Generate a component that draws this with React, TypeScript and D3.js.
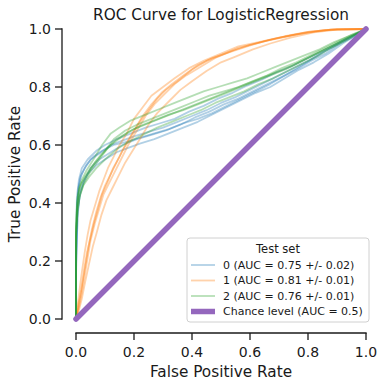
import * as d3 from 'd3';

// ROC folds per class, [fpr, tpr]
const class0Folds: [number, number][][] = [
  [[0,0],[0,0.2],[0.004,0.38],[0.008,0.45],[0.015,0.49],[0.03,0.52],[0.05,0.55],[0.08,0.57],[0.12,0.6],[0.16,0.615],[0.2,0.63],[0.25,0.645],[0.3,0.66],[0.35,0.68],[0.4,0.7],[0.45,0.72],[0.5,0.745],[0.55,0.765],[0.6,0.79],[0.65,0.815],[0.7,0.84],[0.75,0.865],[0.8,0.89],[0.85,0.92],[0.9,0.945],[0.95,0.975],[1,1]],
  [[0,0],[0,0.15],[0.005,0.35],[0.012,0.42],[0.025,0.47],[0.04,0.5],[0.07,0.53],[0.1,0.55],[0.14,0.575],[0.18,0.59],[0.22,0.605],[0.27,0.62],[0.32,0.64],[0.37,0.66],[0.42,0.68],[0.47,0.705],[0.52,0.73],[0.57,0.755],[0.62,0.78],[0.67,0.8],[0.72,0.83],[0.77,0.86],[0.82,0.885],[0.87,0.915],[0.92,0.95],[0.96,0.975],[1,1]],
  [[0,0],[0,0.25],[0.003,0.42],[0.01,0.48],[0.02,0.52],[0.04,0.55],[0.07,0.58],[0.1,0.6],[0.14,0.62],[0.19,0.64],[0.24,0.66],[0.29,0.675],[0.34,0.69],[0.39,0.715],[0.44,0.735],[0.49,0.76],[0.54,0.78],[0.59,0.805],[0.64,0.825],[0.69,0.85],[0.74,0.87],[0.79,0.895],[0.84,0.92],[0.89,0.945],[0.94,0.97],[1,1]],
  [[0,0],[0,0.18],[0.006,0.37],[0.015,0.44],[0.03,0.48],[0.05,0.52],[0.08,0.55],[0.12,0.575],[0.16,0.6],[0.21,0.62],[0.26,0.635],[0.31,0.65],[0.36,0.67],[0.41,0.695],[0.46,0.715],[0.51,0.74],[0.56,0.76],[0.61,0.785],[0.66,0.81],[0.71,0.835],[0.76,0.86],[0.81,0.89],[0.86,0.915],[0.91,0.95],[0.95,0.97],[1,1]],
  [[0,0],[0,0.22],[0.004,0.4],[0.01,0.46],[0.02,0.5],[0.035,0.53],[0.06,0.56],[0.09,0.58],[0.13,0.6],[0.17,0.61],[0.22,0.625],[0.27,0.64],[0.32,0.655],[0.37,0.675],[0.42,0.69],[0.47,0.71],[0.52,0.735],[0.57,0.76],[0.62,0.785],[0.67,0.81],[0.72,0.84],[0.77,0.87],[0.82,0.9],[0.87,0.93],[0.92,0.96],[0.96,0.98],[1,1]],
];

const class1Folds: [number, number][][] = [
  [[0,0],[0.008,0.04],[0.015,0.08],[0.025,0.14],[0.035,0.2],[0.045,0.26],[0.055,0.31],[0.07,0.37],[0.085,0.42],[0.1,0.46],[0.12,0.5],[0.14,0.54],[0.16,0.58],[0.19,0.63],[0.22,0.68],[0.25,0.72],[0.28,0.76],[0.31,0.79],[0.35,0.82],[0.4,0.86],[0.45,0.89],[0.5,0.91],[0.56,0.935],[0.62,0.95],[0.68,0.965],[0.75,0.98],[0.82,0.99],[0.9,1],[1,1]],
  [[0,0],[0.01,0.04],[0.02,0.09],[0.03,0.15],[0.04,0.21],[0.05,0.27],[0.065,0.33],[0.08,0.38],[0.095,0.43],[0.115,0.47],[0.135,0.51],[0.155,0.55],[0.18,0.6],[0.21,0.65],[0.24,0.7],[0.27,0.74],[0.3,0.77],[0.34,0.81],[0.38,0.84],[0.43,0.87],[0.48,0.9],[0.54,0.925],[0.6,0.945],[0.66,0.96],[0.73,0.975],[0.8,0.99],[0.88,0.998],[1,1]],
  [[0,0],[0.006,0.05],[0.012,0.1],[0.02,0.16],[0.03,0.23],[0.04,0.29],[0.05,0.34],[0.065,0.39],[0.08,0.44],[0.095,0.48],[0.11,0.52],[0.13,0.56],[0.15,0.6],[0.175,0.64],[0.2,0.69],[0.23,0.73],[0.26,0.77],[0.3,0.8],[0.34,0.83],[0.39,0.865],[0.44,0.89],[0.5,0.915],[0.56,0.94],[0.63,0.955],[0.7,0.97],[0.78,0.985],[0.86,0.997],[1,1]],
  [[0,0],[0.01,0.03],[0.02,0.07],[0.032,0.13],[0.045,0.19],[0.058,0.25],[0.072,0.3],[0.088,0.36],[0.105,0.41],[0.125,0.45],[0.145,0.49],[0.17,0.54],[0.195,0.58],[0.22,0.62],[0.25,0.67],[0.28,0.71],[0.32,0.75],[0.36,0.79],[0.4,0.82],[0.45,0.855],[0.5,0.885],[0.55,0.905],[0.61,0.93],[0.67,0.95],[0.74,0.97],[0.82,0.988],[0.9,0.998],[1,1]],
  [[0,0],[0.008,0.05],[0.018,0.1],[0.028,0.17],[0.038,0.23],[0.05,0.28],[0.062,0.33],[0.076,0.38],[0.09,0.43],[0.108,0.47],[0.128,0.52],[0.15,0.56],[0.17,0.6],[0.2,0.65],[0.23,0.7],[0.26,0.74],[0.295,0.78],[0.33,0.81],[0.37,0.84],[0.42,0.875],[0.47,0.9],[0.53,0.92],[0.59,0.94],[0.65,0.958],[0.72,0.975],[0.8,0.99],[0.88,0.998],[1,1]],
];

const class2Folds: [number, number][][] = [
  [[0,0],[0,0.3],[0.003,0.38],[0.008,0.43],[0.015,0.46],[0.03,0.49],[0.05,0.52],[0.075,0.55],[0.1,0.58],[0.13,0.62],[0.17,0.65],[0.21,0.67],[0.26,0.69],[0.31,0.71],[0.36,0.73],[0.41,0.75],[0.46,0.77],[0.51,0.785],[0.56,0.8],[0.61,0.82],[0.66,0.84],[0.71,0.865],[0.76,0.885],[0.81,0.91],[0.86,0.935],[0.91,0.96],[0.95,0.98],[1,1]],
  [[0,0],[0,0.32],[0.004,0.41],[0.01,0.45],[0.02,0.48],[0.035,0.51],[0.06,0.55],[0.09,0.6],[0.12,0.64],[0.15,0.66],[0.19,0.685],[0.24,0.705],[0.29,0.725],[0.34,0.745],[0.39,0.765],[0.44,0.785],[0.49,0.8],[0.54,0.815],[0.59,0.83],[0.64,0.85],[0.69,0.87],[0.74,0.89],[0.79,0.91],[0.84,0.93],[0.89,0.955],[0.94,0.975],[1,1]],
  [[0,0],[0,0.28],[0.005,0.37],[0.012,0.42],[0.025,0.46],[0.045,0.49],[0.07,0.52],[0.1,0.55],[0.14,0.585],[0.18,0.61],[0.23,0.635],[0.28,0.66],[0.33,0.68],[0.38,0.7],[0.43,0.72],[0.48,0.745],[0.53,0.765],[0.58,0.785],[0.63,0.81],[0.68,0.83],[0.73,0.855],[0.78,0.88],[0.83,0.905],[0.88,0.935],[0.93,0.96],[1,1]],
  [[0,0],[0,0.3],[0.004,0.39],[0.01,0.44],[0.02,0.47],[0.04,0.5],[0.065,0.54],[0.09,0.57],[0.12,0.6],[0.16,0.63],[0.2,0.655],[0.25,0.675],[0.3,0.695],[0.35,0.715],[0.4,0.735],[0.45,0.755],[0.5,0.775],[0.55,0.795],[0.6,0.815],[0.65,0.835],[0.7,0.855],[0.75,0.875],[0.8,0.9],[0.85,0.925],[0.9,0.95],[0.95,0.975],[1,1]],
  [[0,0],[0,0.29],[0.006,0.38],[0.014,0.43],[0.028,0.47],[0.05,0.51],[0.08,0.55],[0.11,0.59],[0.14,0.62],[0.18,0.645],[0.22,0.665],[0.27,0.685],[0.32,0.705],[0.37,0.72],[0.42,0.74],[0.47,0.76],[0.52,0.78],[0.57,0.8],[0.62,0.82],[0.67,0.84],[0.72,0.86],[0.77,0.885],[0.82,0.91],[0.87,0.935],[0.92,0.96],[0.96,0.98],[1,1]],
];

const chance: [number, number][] = [[0, 0], [1, 1]];

const classLabels = ['0 (AUC = 0.75 +/- 0.02)', '1 (AUC = 0.81 +/- 0.01)', '2 (AUC = 0.76 +/- 0.01)'];
const chanceLabel = 'Chance level (AUC = 0.5)';
const ticks = [0, 0.2, 0.4, 0.6, 0.8, 1.0];
const colors = ['#1f77b4', '#ff7f0e', '#2ca02c'];
const chanceColor = '#9467bd';

const font = 'DejaVu Sans, sans-serif';

export default function App() {
  const width = 385;
  const height = 386;
  const x = d3.scaleLinear().domain([0, 1]).range([76, 366]);
  const y = d3.scaleLinear().domain([0, 1]).range([319, 29]);
  const line = d3
    .line<[number, number]>()
    .x((d) => x(d[0]))
    .y((d) => y(d[1]));

  const allFolds = [class0Folds, class1Folds, class2Folds];
  const spineX = 62;
  const spineY = 333;
  const ink = '#1a1a1a';

  const lx = 187;
  const ly = 238;

  return (
    <svg
      width={width}
      height={height}
      style={{ position: 'absolute', left: 0, top: 0, background: '#fff' }}
      fontFamily={font}
    >
      <text x={221} y={20} textAnchor="middle" fontSize={15.3} fill={ink}>
        ROC Curve for LogisticRegression
      </text>

      {/* curves */}
      {allFolds.map((folds, ci) =>
        folds.map((f, fi) => (
          <path
            key={`${ci}-${fi}`}
            d={line(f) ?? ''}
            fill="none"
            stroke={colors[ci]}
            strokeOpacity={0.35}
            strokeWidth={1.8}
            strokeLinejoin="round"
          />
        )),
      )}
      <path d={line(chance) ?? ''} stroke={chanceColor} strokeWidth={5.5} strokeLinecap="round" fill="none" />

      {/* y axis */}
      <line x1={spineX} x2={spineX} y1={y(1)} y2={y(0)} stroke={ink} strokeWidth={1.3} strokeLinecap="square" />
      {ticks.map((t) => (
        <g key={`y${t}`}>
          <line x1={spineX - 7} x2={spineX} y1={y(t)} y2={y(t)} stroke={ink} strokeWidth={1.3} />
          <text x={spineX - 11} y={y(t)} dy="0.35em" textAnchor="end" fontSize={14} fill={ink}>
            {t.toFixed(1)}
          </text>
        </g>
      ))}
      <text
        transform={`translate(20,${(y(0) + y(1)) / 2}) rotate(-90)`}
        textAnchor="middle"
        fontSize={15.3}
        fill={ink}
      >
        True Positive Rate
      </text>

      {/* x axis */}
      <line x1={x(0)} x2={x(1)} y1={spineY} y2={spineY} stroke={ink} strokeWidth={1.3} strokeLinecap="square" />
      {ticks.map((t) => (
        <g key={`x${t}`}>
          <line x1={x(t)} x2={x(t)} y1={spineY} y2={spineY + 7} stroke={ink} strokeWidth={1.3} />
          <text x={x(t)} y={spineY + 24} textAnchor="middle" fontSize={14} fill={ink}>
            {t.toFixed(1)}
          </text>
        </g>
      ))}
      <text x={(x(0) + x(1)) / 2} y={377} textAnchor="middle" fontSize={15.3} fill={ink}>
        False Positive Rate
      </text>

      {/* legend */}
      <rect x={lx} y={ly} width={182} height={84} rx={3} fill="#fff" fillOpacity={0.8} stroke="#d0d0d0" strokeWidth={1} />
      <text x={lx + 91} y={ly + 15} textAnchor="middle" fontSize={11.5} fill={ink}>
        Test set
      </text>
      {classLabels.map((lab, i) => (
        <g key={lab}>
          <line
            x1={lx + 4}
            x2={lx + 28}
            y1={ly + 27 + i * 15.5}
            y2={ly + 27 + i * 15.5}
            stroke={colors[i]}
            strokeOpacity={0.35}
            strokeWidth={1.8}
          />
          <text x={lx + 36} y={ly + 27 + i * 15.5} dy="0.35em" fontSize={11} fill={ink}>
            {lab}
          </text>
        </g>
      ))}
      <line x1={lx + 4} x2={lx + 28} y1={ly + 73.5} y2={ly + 73.5} stroke={chanceColor} strokeWidth={5.5} />
      <text x={lx + 36} y={ly + 73.5} dy="0.35em" fontSize={11} fill={ink}>
        {chanceLabel}
      </text>
    </svg>
  );
}
